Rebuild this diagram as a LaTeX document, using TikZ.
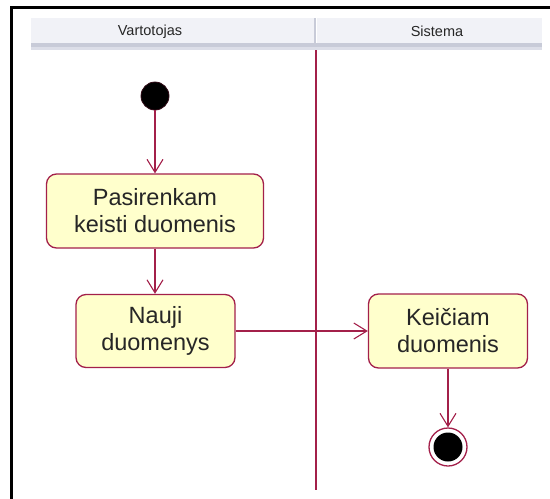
\documentclass[tikz,border=0pt]{standalone}
\usepackage{fontspec}
\setmainfont{Liberation Sans}
\usetikzlibrary{arrows.meta}
\definecolor{umlred}{RGB}{163,32,74}
\definecolor{actfill}{RGB}{255,255,204}
\definecolor{headfill}{RGB}{241,242,247}
\definecolor{headline}{RGB}{200,203,216}
\definecolor{headline2}{RGB}{220,222,232}
\tikzset{
  action/.style={draw=umlred, line width=1.3pt, fill=actfill, rounded corners=10pt,
    align=center, inner sep=0pt, text=black!85, font=\fontsize{23.5}{27}\selectfont},
  flow/.style={draw=umlred, line width=1.3pt, -{Straight Barb[length=13pt,width=16pt,line width=1.1pt]}},
  lanelabel/.style={font=\fontsize{14.5}{16}\selectfont, text=black!85},
}
\begin{document}
\begin{tikzpicture}[x=1pt,y=-1pt]
  \useasboundingbox (0,0) rectangle (550,499);
  % frame
  \draw[line width=3pt] (11,499) -- (11,7) -- (550,7);
  % swimlane header
  \fill[headfill] (31,18) rectangle (542,50);
  \fill[headline] (31,43) rectangle (542,46.5);
  \fill[headline2] (31,46.5) rectangle (542,50);
  \fill[headline] (313.5,18) rectangle (316,43);
  \fill[white] (316,18) rectangle (317,43);
  \node[lanelabel] (lane1) at (150,31.5) {Vartotojas};
  \node[lanelabel] (lane2) at (437,31.5) {Sistema};
  % lane separator
  \coordinate (sepTop) at (316,50);
  \coordinate (sepBot) at (316,490);
  \draw[umlred, line width=1.3pt] (sepTop) -- (sepBot);
  % nodes
  \node[circle, fill=black, draw=black!70!umlred, line width=0.8pt, minimum size=28pt, inner sep=0pt] (init) at (155,96) {};
  \node[action, minimum width=217pt, minimum height=74pt] (choose) at (155,211) {Pasirenkam\\keisti duomenis};
  \node[action, minimum width=159pt, minimum height=73pt] (newdata) at (155.5,331) {Nauji\\duomenys};
  \node[action, minimum width=159pt, minimum height=74pt] (change) at (448,331) {Keičiam\\duomenis};
  \node[circle, draw=umlred, fill=white, line width=1.3pt, minimum size=38pt, inner sep=0pt] (final) at (448,447) {};
  \node[circle, fill=black, minimum size=29pt, inner sep=0pt] (finaldot) at (final) {};
  % flows
  \draw[flow] (init) -- (choose);
  \draw[flow] (choose) -- (choose.south |- newdata.north);
  \draw[flow] (newdata) -- (change);
  \draw[flow] (change) -- (final);
\end{tikzpicture}
\end{document}
